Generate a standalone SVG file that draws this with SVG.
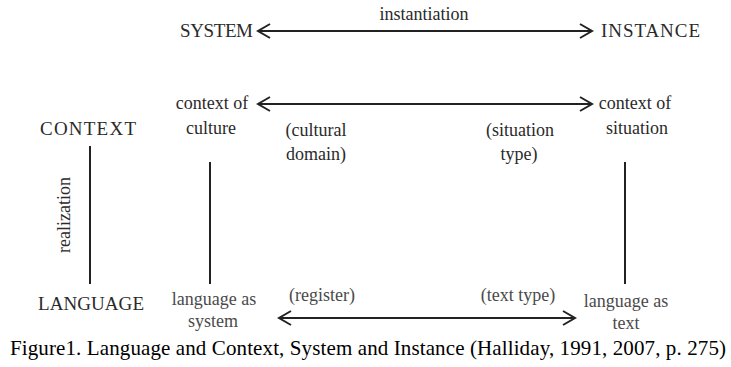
<svg xmlns="http://www.w3.org/2000/svg" width="731" height="367" viewBox="0 0 731 367">
<style>
text{font-family:"Liberation Serif","Times New Roman",serif;fill:#2a2a2a}
.caps{font-size:19px}
.lc{font-size:18px;text-anchor:middle}
.lt{fill:#4a4a4a}
.line{stroke:#222;stroke-width:2;fill:none}
.cap{font-size:21px;fill:#000}
</style>
<defs>
<marker id="ah" markerWidth="16" markerHeight="16" viewBox="0 0 16 16" refX="14" refY="8" orient="auto-start-reverse" markerUnits="userSpaceOnUse">
<path d="M2,1 L14,8 L2,15" fill="none" stroke="#222" stroke-width="2"/>
</marker>
</defs>
<rect width="731" height="367" fill="#fff"/>
<g id="system"><text class="caps" x="180" y="37" textLength="73">SYSTEM</text></g>
<g id="instance"><text class="caps" x="601" y="37" textLength="99">INSTANCE</text></g>
<g id="context"><text class="caps" x="40" y="135" textLength="96">CONTEXT</text></g>
<g id="language"><text class="caps" x="38" y="310" textLength="106">LANGUAGE</text></g>
<g id="context-of-culture"><text class="lc" x="212" y="109">context of</text><text class="lc" x="211" y="134">culture</text></g>
<g id="context-of-situation"><text class="lc" x="635" y="109">context of</text><text class="lc" x="637" y="134">situation</text></g>
<g id="cultural-domain"><text class="lc" x="316" y="136">(cultural</text><text class="lc" x="316" y="160">domain)</text></g>
<g id="situation-type"><text class="lc" x="520" y="136">(situation</text><text class="lc" x="519" y="160">type)</text></g>
<g id="language-as-system"><text class="lc lt" x="214" y="305">language as</text><text class="lc lt" x="213" y="327">system</text></g>
<g id="language-as-text"><text class="lc lt" x="626" y="307">language as</text><text class="lc lt" x="626" y="329">text</text></g>
<g id="register"><text class="lc lt" x="322" y="301">(register)</text></g>
<g id="text-type"><text class="lc lt" x="518" y="301">(text type)</text></g>
<g id="connectors">
<line class="line" x1="258" y1="31" x2="592" y2="31" marker-start="url(#ah)" marker-end="url(#ah)"/>
<text class="lc" x="424" y="20">instantiation</text>
<line class="line" x1="258" y1="104" x2="592" y2="104" marker-start="url(#ah)" marker-end="url(#ah)"/>
<line class="line" x1="279" y1="318" x2="575" y2="318" marker-start="url(#ah)" marker-end="url(#ah)"/>
<line class="line" x1="90" y1="146" x2="90" y2="284"/>
<line class="line" x1="210" y1="162" x2="210" y2="284"/>
<line class="line" x1="625" y1="162" x2="625" y2="284"/>
<text class="lc" transform="translate(70,215) rotate(-90)">realization</text>
</g>
<text class="cap" x="10" y="355" textLength="716">Figure1. Language and Context, System and Instance (Halliday, 1991, 2007, p. 275)</text>
</svg>
